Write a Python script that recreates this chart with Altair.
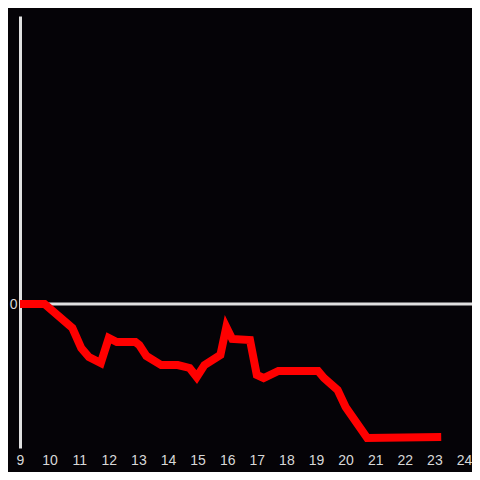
import altair as alt
import pandas as pd

xs = [9.0, 9.83, 10.77, 11.07, 11.33, 11.73, 12.0, 12.27, 12.9, 13.03, 13.27,
      13.77, 14.33, 14.73, 14.97, 15.23, 15.77, 15.97, 16.17, 16.77, 17.0,
      17.23, 17.73, 19.07, 19.27, 19.73, 20.0, 20.73, 23.23]
ys = [0.0, 0.0, -1.67, -3.06, -3.68, -4.10, -2.36, -2.64, -2.64, -2.85, -3.61,
      -4.24, -4.24, -4.44, -5.07, -4.24, -3.54, -1.60, -2.43, -2.5, -4.93,
      -5.14, -4.65, -4.65, -5.14, -5.97, -7.15, -9.31, -9.24]
x_ticks = list(range(9, 25))
y_ticks = [0]

df = pd.DataFrame({"x": xs, "y": ys})

W, H = 444, 432
xscale = alt.Scale(domain=[9, 24], nice=False, zero=False)
yscale = alt.Scale(domain=[-10, 20], nice=False, zero=False)

zero = alt.Chart(pd.DataFrame({"y": [0]})).mark_rule(
    color="#e0e0e0", strokeWidth=3
).encode(y=alt.Y("y:Q", scale=yscale), x=alt.value(0), x2=alt.value(W + 8))

line = alt.Chart(df).mark_line(color="#ff0000", strokeWidth=8, strokeCap="butt").encode(
    x=alt.X("x:Q", scale=xscale, title=None,
            axis=alt.Axis(values=x_ticks, domain=False, ticks=False, grid=False,
                          labelColor="#d8d8d8", labelFontSize=14, labelFont="Liberation Sans",
                          labelPadding=5, labelFlush=False, labelOverlap=False)),
    y=alt.Y("y:Q", scale=yscale, title=None,
            axis=alt.Axis(values=y_ticks, domain=True, domainColor="#e0e0e0", domainWidth=3,
                          ticks=False, grid=False, labelColor="#d8d8d8", labelFontSize=14,
                          labelFont="Liberation Sans", labelPadding=3)),
)

chart = alt.layer(zero, line).properties(
    width=W, height=H,
    background="#050307",
    padding={"left": 12, "top": 8, "right": 8, "bottom": 24},
    autosize=alt.AutoSizeParams(type="none"),
).configure_view(stroke=None)

chart.save("out.html", embed_options={"renderer": "svg", "actions": False})
